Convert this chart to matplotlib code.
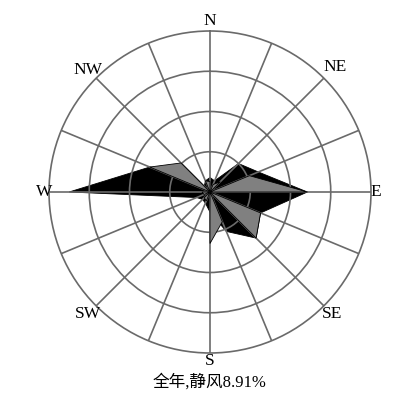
import numpy as np
import matplotlib
matplotlib.use("Agg")
import matplotlib.pyplot as plt

# 16 wind directions, clockwise from north
directions = ["N", "NNE", "NE", "ENE", "E", "ESE", "SE", "SSE",
              "S", "SSW", "SW", "WSW", "W", "WNW", "NW", "NNW"]
# black series (full polygon, %)
black_freq = [1.8, 1.5, 5.0, 6.5, 12.1, 6.8, 8.1, 5.3,
              2.5, 1.5, 1.3, 1.8, 17.5, 8.1, 1.0, 1.5]
# gray series (drawn in alternate sectors, %)
gray_freq = [1.3, 1.0, 1.8, 5.3, 12.1, 6.8, 8.1, 4.0,
             6.4, 1.2, 1.0, 0.8, 1.0, 8.1, 5.1, 1.5]
label_dirs = ["N", "NE", "E", "SE", "S", "SW", "W", "NW"]
caption = "全年,静风8.91%"
ring_values = [5, 10, 15, 20]

W, H = 414, 396
fig = plt.figure(figsize=(W / 100, H / 100), dpi=100)
cx, cy, R = 210, 192, 161
ax = fig.add_axes([(cx - R) / W, (H - cy - R) / H, 2 * R / W, 2 * R / H],
                  projection="polar")
ax.set_theta_zero_location("N")
ax.set_theta_direction(-1)
ax.set_ylim(0, ring_values[-1])

theta = np.deg2rad(np.arange(len(directions)) * 22.5)

# black polygon
tb = np.append(theta, theta[0])
rb = np.append(black_freq, black_freq[0])
ax.fill(tb, rb, facecolor="black", edgecolor="black", lw=0.6, zorder=2)

# gray sectors (odd sectors: NNE-NE, ENE-E, ESE-SE, ...)
n = len(directions)
for i in range(1, n, 2):
    j = (i + 1) % n
    t = [0, theta[i], theta[j] if j != 0 else 2 * np.pi, 0]
    r = [0, gray_freq[i], gray_freq[j], 0]
    ax.fill(t, r, facecolor="#808080", edgecolor="black", lw=0.6, zorder=3)

grid_c = "#6a6a6a"
ax.set_xticks(theta)
ax.set_xticklabels([])
ax.set_yticks(ring_values[:-1])
ax.set_yticklabels([])
ax.grid(True, color=grid_c, lw=1.2)
ax.set_axisbelow(False)
for gl in ax.xaxis.get_gridlines() + ax.yaxis.get_gridlines():
    gl.set_zorder(4)
ax.spines["polar"].set_color(grid_c)
ax.spines["polar"].set_linewidth(1.2)
ax.tick_params(length=0)

# label distance factor (layout), by compass octant
label_pad = {"N": 1.062, "NE": 1.10, "E": 1.031, "SE": 1.075,
             "S": 1.05, "SW": 1.075, "W": 1.031, "NW": 1.075}
for d in label_dirs:
    k = directions.index(d)
    ax.text(theta[k], ring_values[-1] * label_pad[d], d, ha="center",
            va="center", fontsize=12.5, family="Liberation Serif",
            clip_on=False)

fig.text(cx / W, (H - 382) / H, caption, ha="center", va="center",
         fontsize=12, family=["Liberation Serif", "Noto Sans CJK SC"])

fig.savefig("out.png", dpi=100)
